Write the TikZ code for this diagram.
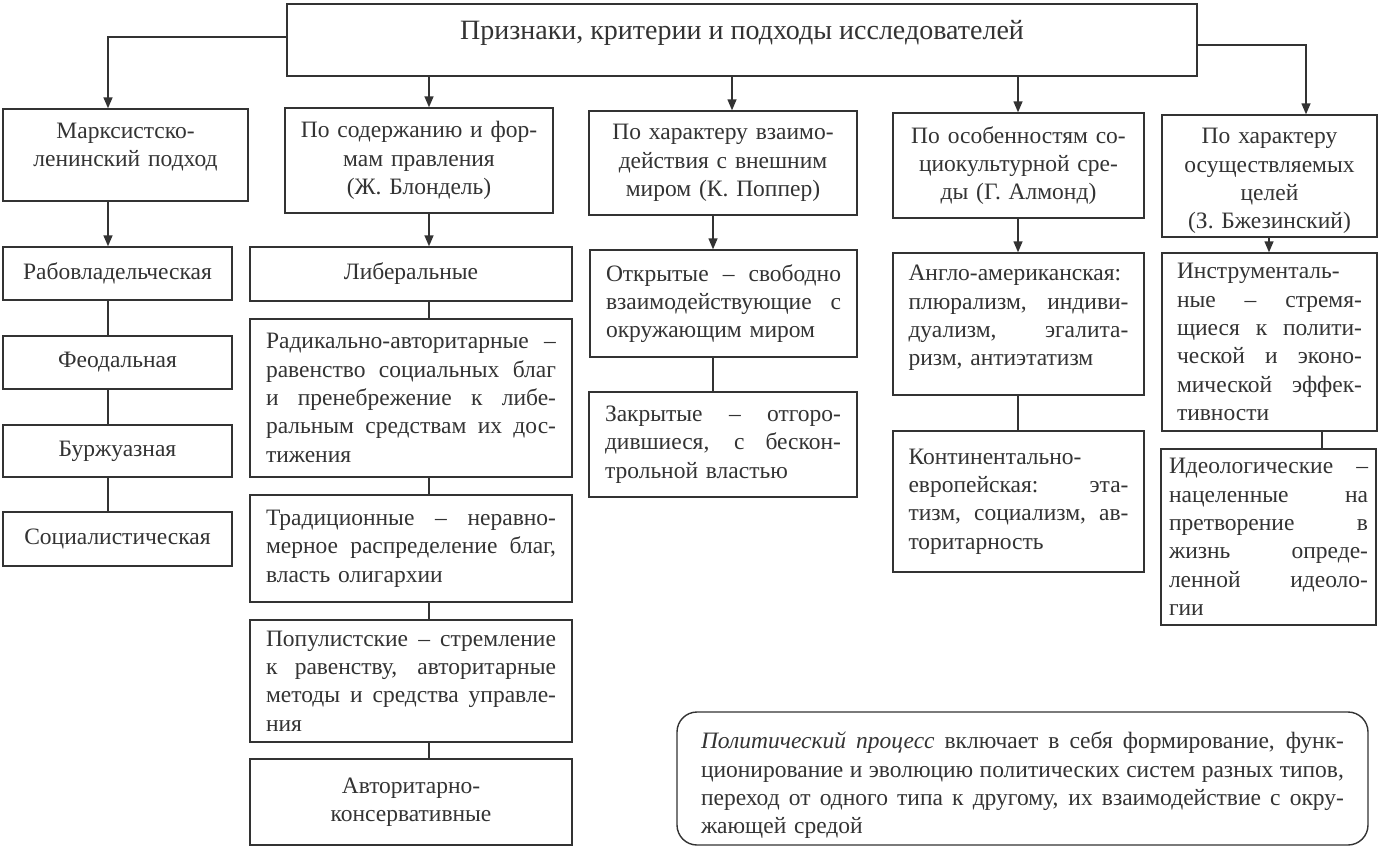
\documentclass[tikz,border=0pt]{standalone}
\usepackage{fontspec}
\setmainfont{Liberation Serif}
\usetikzlibrary{arrows.meta}
\newcommand\bodyfont{\fontsize{23.5}{28.3}\selectfont}
\newcommand\titlefont{\fontsize{28}{33}\selectfont}
\newcommand\jl[1]{\leavevmode\hbox to\hsize{\spaceskip=0pt\xspaceskip=0pt #1}\\}
\definecolor{ink}{gray}{0.2}
\begin{document}
\begin{tikzpicture}[x=1pt,y=-1pt,
 box/.style={draw=ink, line width=1.4pt, inner ysep=0pt, inner xsep=8pt, text=ink, font=\bodyfont},
 txt/.style={inner sep=0pt, text=ink, font=\bodyfont},
 ln/.style={draw=ink, line width=1.4pt},
 arr/.style={ln, -{Triangle[length=11pt,width=9pt]}}]
\useasboundingbox[fill=white] (0,0) rectangle (1379,857);

% top
\node[box, minimum width=910pt, minimum height=72pt] (T) at (742,40) {};
\node[txt, font=\titlefont] (Tt) at (742,33) {Признаки, критерии и подходы исследователей};

% level 1
\node[box, minimum width=245pt, minimum height=92pt] (B1) at (125.5,155) {};
\node[txt, text width=229pt, align=center] (B1t) at (125.5,147) {Марксистско-\\ленинский подход};
\node[box, minimum width=268pt, minimum height=105pt, text width=252pt, align=center] (B2) at (419,160.5) {По содержанию и фор-\\мам правления\\(Ж. Блондель)};
\node[box, minimum width=268pt, minimum height=104pt, text width=252pt, align=center] (B3) at (723,163) {По характеру взаимо-\\действия с внешним\\миром (К. Поппер)};
\node[box, minimum width=251pt, minimum height=105pt, text width=235pt, align=center] (B4) at (1018.5,165.5) {По особенностям со-\\циокультурной сре-\\ды (Г. Алмонд)};
\node[box, minimum width=215pt, minimum height=122pt, text width=199pt, align=center] (B5) at (1269.5,176) {};
\node[txt, text width=199pt, align=center] (B5t) at (1269.5,181) {По характеру\\осуществляемых\\целей\\(З. Бжезинский)};

% column 1
\node[box, minimum width=229pt, minimum height=53pt, text width=213pt, align=center] (Rab) at (117.5,273.5) {Рабовладельческая};
\node[box, minimum width=229pt, minimum height=53pt, text width=213pt, align=center] (Feod) at (117.5,362.5) {Феодальная};
\node[box, minimum width=229pt, minimum height=52pt, text width=213pt, align=center] (Burzh) at (117.5,451) {Буржуазная};
\node[box, minimum width=229pt, minimum height=54pt, text width=213pt, align=center] (Soc) at (117.5,539) {Социалистическая};

% column 2
\begin{scope}[every node/.append style={inner xsep=16pt, text width=290pt, minimum width=322pt}]
\node[box, minimum height=54pt, align=center] (Lib) at (411,274) {Либеральные};
\node[box, minimum height=158pt, align=left] (Rad) at (411,398) {\jl{Радикально-авторитарные –}\jl{равенство социальных благ}\jl{и пренебрежение к либе-}\jl{ральным средствам их дос-}тижения};
\node[box, minimum height=107pt, align=left] (Trad) at (411,548.5) {\jl{Традиционные – неравно-}\jl{мерное распределение благ,}власть олигархии};
\node[box, minimum height=122pt, align=left] (Pop) at (411,681) {\jl{Популистские – стремление}\jl{к равенству, авторитарные}\jl{методы и средства управле-}ния};
\node[box, minimum height=86pt, align=center] (Avt) at (411,802) {Авторитарно-\\консервативные};
\end{scope}

% column 3
\node[box, inner xsep=16pt, minimum width=267pt, text width=235pt, minimum height=107pt, align=left] (Otk) at (723.5,303.5) {\jl{Открытые – свободно}\jl{взаимодействующие с}окружающим миром};
\node[box, inner xsep=16pt, minimum width=268pt, text width=236pt, minimum height=105pt, align=left] (Zak) at (723,444.5) {\jl{Закрытые – отгоро-}\jl{дившиеся, с бескон-}трольной властью};

% column 4
\node[box, minimum width=251pt, minimum height=142pt] (Angl) at (1018.5,324) {};
\node[txt, text width=220pt, align=left] (Anglt) at (1018.5,318) {\jl{Англо-американская:}\jl{плюрализм, индиви-}\jl{дуализм, эгалита-}ризм, антиэтатизм};
\node[box, inner xsep=15.5pt, minimum width=251pt, text width=220pt, minimum height=141pt, align=left] (Kont) at (1018.5,501.5) {Континентально-\\\jl{европейская: эта-}\jl{тизм, социализм, ав-}торитарность};

% column 5
\node[box, inner xsep=15pt, minimum width=215pt, text width=185pt, minimum height=178pt, align=left] (Instr) at (1269.5,342) {Инструменталь-\\\jl{ные – стремя-}\jl{щиеся к полити-}\jl{ческой и эконо-}\jl{мической эффек-}тивности};
\node[box, inner xsep=8pt, minimum width=215pt, text width=199pt, minimum height=176pt, align=left] (Ideo) at (1268.5,537) {\jl{Идеологические –}\jl{нацеленные на}\jl{претворение в}\jl{жизнь опреде-}\jl{ленной идеоло-}гии};

% note
\node[box, rounded corners=20pt, minimum width=691pt, minimum height=133pt] (N) at (1022.5,778.5) {};
\node[txt, text width=643pt, align=left] (Nt) at (1022.5,785.5) {\jl{\textit{Политический процесс} включает в себя формирование, функ-}\jl{ционирование и эволюцию политических систем разных типов,}\jl{переход от одного типа к другому, их взаимодействие с окру-}жающей средой};

% connectors from top
\draw[arr] ([yshift=3pt]T.west) -| (B1.north -| 108,0);
\draw[arr] ([yshift=-5pt]T.east) -| (B5.north -| 1306,0);
\draw[arr] (T.south -| 429,0) -- (B2.north -| 429,0);
\draw[arr] (T.south -| 732,0) -- (B3.north -| 732,0);
\draw[arr] (T.south -| 1018,0) -- (B4.north -| 1018,0);

% column 1
\draw[arr] (B1.south -| 108,0) -- (Rab.north -| 108,0);
\draw[ln] (Rab.south -| 108,0) -- (Feod.north -| 108,0);
\draw[ln] (Feod.south -| 108,0) -- (Burzh.north -| 108,0);
\draw[ln] (Burzh.south -| 108,0) -- (Soc.north -| 108,0);

% column 2
\draw[arr] (B2.south -| 429,0) -- (Lib.north -| 429,0);
\draw[ln] (Lib.south -| 429,0) -- (Rad.north -| 429,0);
\draw[ln] (Rad.south -| 429,0) -- (Trad.north -| 429,0);
\draw[ln] (Trad.south -| 429,0) -- (Pop.north -| 429,0);
\draw[ln] (Pop.south -| 429,0) -- (Avt.north -| 429,0);

% column 3
\draw[arr] (B3.south -| 713,0) -- (Otk.north -| 713,0);
\draw[ln] (Otk.south -| 713,0) -- (Zak.north -| 713,0);

% column 4
\draw[arr] (B4.south -| 1018,0) -- (Angl.north -| 1018,0);
\draw[ln] (Angl.south -| 1018,0) -- (Kont.north -| 1018,0);

% column 5
\draw[arr] (B5.south -| 1269,0) -- (Instr.north -| 1269,0);
\draw[ln] (Instr.south -| 1322,0) -- (Ideo.north -| 1322,0);
\end{tikzpicture}
\end{document}
